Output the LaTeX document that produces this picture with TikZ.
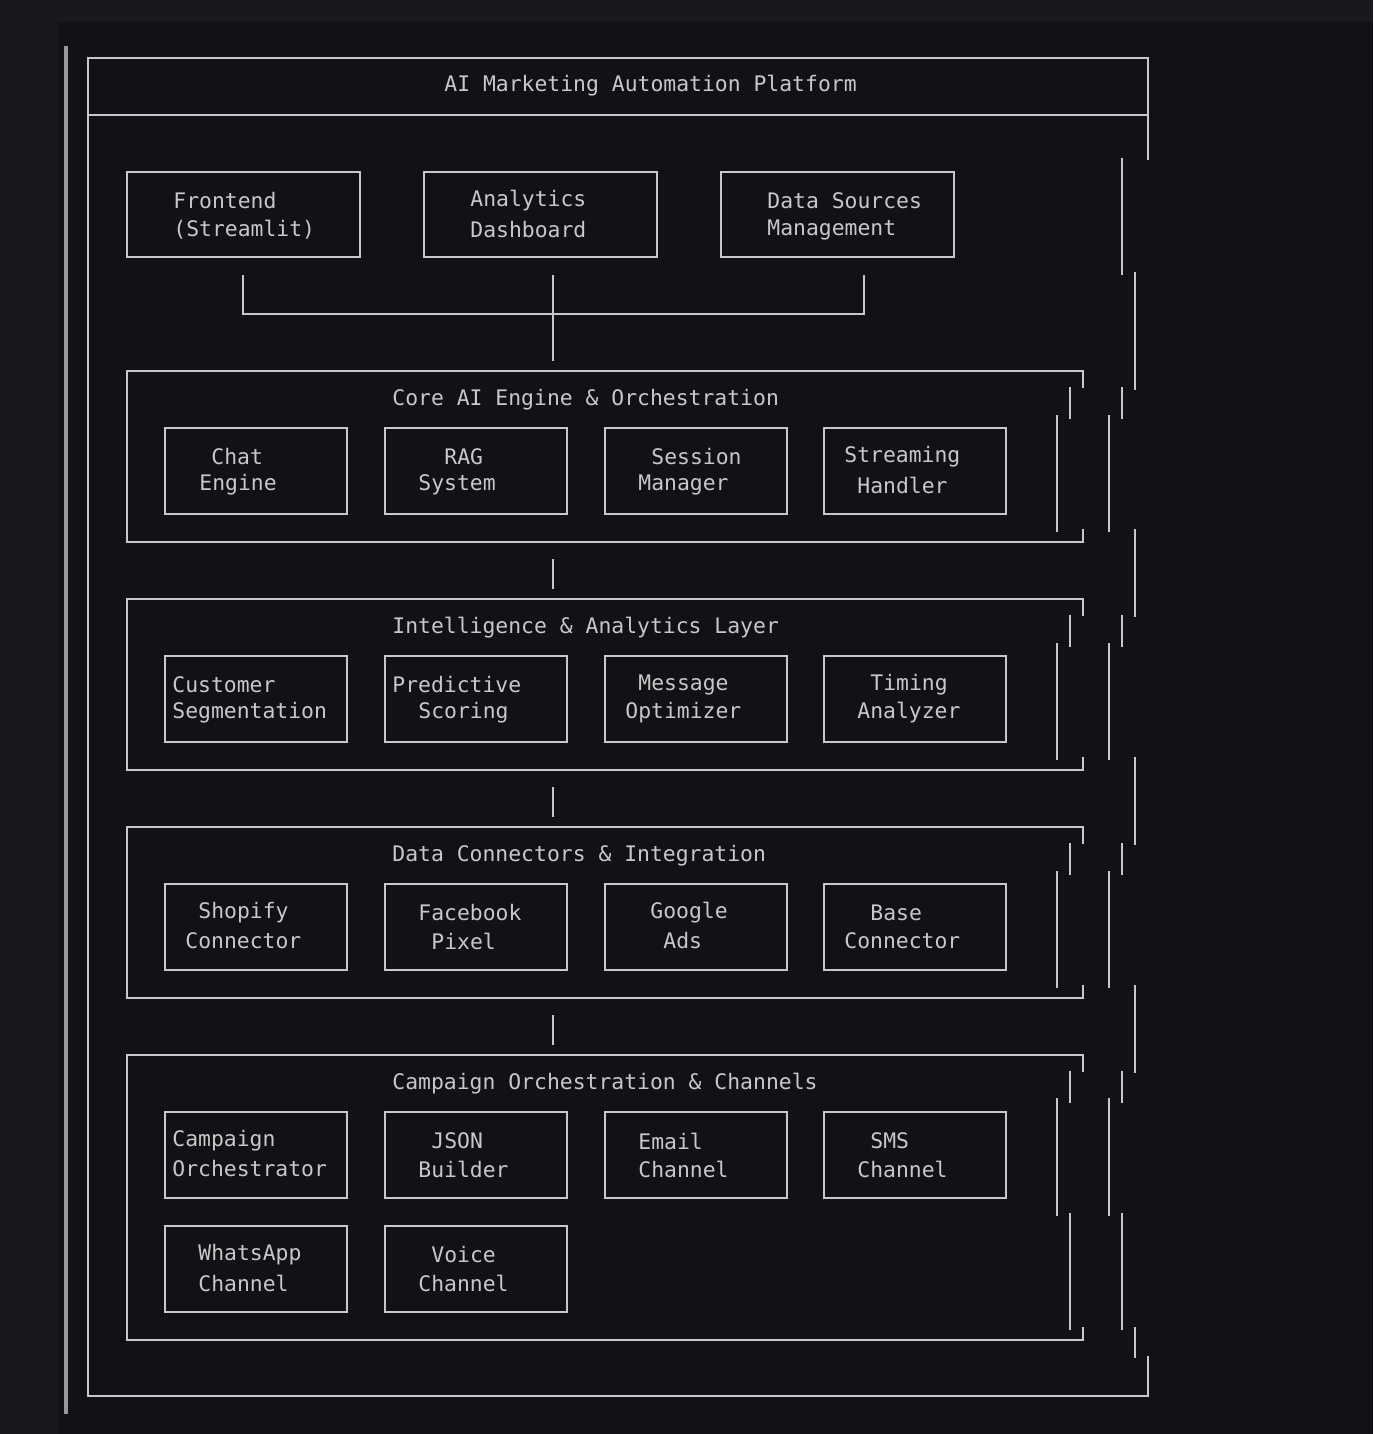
\documentclass[tikz,border=0pt]{standalone}
\usepackage{fontspec}
\setmonofont{DejaVu Sans Mono}
\usetikzlibrary{positioning}
\definecolor{pagebg}{HTML}{18181D}
\definecolor{termbg}{HTML}{111116}
\definecolor{ink}{HTML}{C8C8C8}
\tikzset{
  txt/.style={anchor=west,inner sep=0pt,text=ink,font=\ttfamily\fontsize{10.7}{12}\selectfont},
  frame/.style={draw=ink,line width=1pt},
  comp/.style={draw=ink,line width=1pt},
  wire/.style={draw=ink,line width=1pt},
}
% two-line component box: name, corners, text positions
\newcommand{\compbox}[8]{%
  \draw[comp] (#2,#3) rectangle (#4,#5);
  \node[txt] (#1a) at (#6,#5-#3) {};
  \node[txt] at (#6,{#3+29}) {#7};
  \node[txt] at (#8) {};
}
\newcommand{\twoline}[7]{%
  \draw[comp] (#2,#3) rectangle ({#2+182},{#3+86});
  \node[txt] (#1) at (#4,{#3+29}) {#5};
  \node[txt] (#1b) at (#6,{#3+57}) {#7};
}
\newcommand{\layerbox}[4]{%
  \draw[frame] (1083,{#1+17}) -- (1083,#1) -- (127,#1) -- (127,#2) -- (1083,#2) -- (1083,{#2-13});
  \node[txt] (#3) at (392,{#1+29}) {#4};
}
\begin{document}
\begin{tikzpicture}[x=0.5pt,y=-0.5pt]
  \fill[pagebg] (0,0) rectangle (1373,1434);
  \fill[termbg] (58,22) rectangle (1373,1434);
  \draw[line width=2pt,color=gray!80] (66,46) -- (66,1414);

  % outer frame
  \draw[frame] (1148,160) -- (1148,58) -- (88,58) -- (88,1396) -- (1148,1396) -- (1148,1356);
  \draw[frame] (88,115) -- (1148,115);
  \node[txt] (title) at (444,86) {AI Marketing Automation Platform};

  % top row
  \draw[comp] (127,172) rectangle (360,257);
  \node[txt] (fe) at (173,201) {Frontend};
  \node[txt] at (173,230) {(Streamlit)};
  \draw[comp] (424,172) rectangle (657,257);
  \node[txt] (ad) at (470,201) {Analytics};
  \node[txt] at (470,230) {Dashboard};
  \draw[comp] (721,172) rectangle (954,257);
  \node[txt] (ds) at (767,201) {Data Sources};
  \node[txt] at (767,230) {Management};

  \coordinate (j1) at (243,275);
  \coordinate (j2) at (553,275);
  \coordinate (j3) at (864,275);
  \coordinate (hub) at (553,314);
  \coordinate (down) at (553,361);
  \draw[wire] (j1) |- (hub) -| (j3);
  \draw[wire] (j2) -- (down);

  % layers
  \layerbox{371}{542}{core}{Core AI Engine \& Orchestration}
  \twoline{chat}{165}{428}{211}{Chat}{199}{Engine}
  \twoline{rag}{385}{428}{444}{RAG}{418}{System}
  \twoline{sess}{605}{428}{651}{Session}{638}{Manager}
  \twoline{strm}{824}{428}{844}{Streaming}{857}{Handler}

  \layerbox{599}{770}{intel}{Intelligence \& Analytics Layer}
  \twoline{seg}{165}{656}{172}{Customer}{172}{Segmentation}
  \twoline{pred}{385}{656}{392}{Predictive}{418}{Scoring}
  \twoline{msg}{605}{656}{638}{Message}{625}{Optimizer}
  \twoline{tim}{824}{656}{870}{Timing}{857}{Analyzer}

  \layerbox{827}{998}{data}{Data Connectors \& Integration}
  \twoline{shop}{165}{884}{198}{Shopify}{185}{Connector}
  \twoline{fb}{385}{884}{418}{Facebook}{431}{Pixel}
  \twoline{gads}{605}{884}{650}{Google}{663}{Ads}
  \twoline{base}{824}{884}{870}{Base}{844}{Connector}

  \layerbox{1055}{1340}{camp}{Campaign Orchestration \& Channels}
  \twoline{orch}{165}{1112}{172}{Campaign}{172}{Orchestrator}
  \twoline{json}{385}{1112}{431}{JSON}{418}{Builder}
  \twoline{email}{605}{1112}{638}{Email}{638}{Channel}
  \twoline{sms}{824}{1112}{870}{SMS}{857}{Channel}
  \twoline{wa}{165}{1226}{198}{WhatsApp}{198}{Channel}
  \twoline{voice}{385}{1226}{431}{Voice}{418}{Channel}

  % links between layers
  \foreach \a/\b in {559/589,787/817,1015/1045}
    \draw[wire] (553,\a) -- (553,\b);

  % broken right edges
  \foreach \y in {371,599,827,1055}{
    \draw[wire] (1070,\y+16) -- (1070,\y+48);
    \draw[wire] (1122,\y+16) -- (1122,\y+48);
  }
  \foreach \y in {371,599,827}{
    \draw[wire] (1057,\y+44) -- (1057,\y+161);
    \draw[wire] (1109,\y+44) -- (1109,\y+161);
    \draw[wire] (1135,\y+158) -- (1135,\y+246);
  }
  \draw[wire] (1057,1098) -- (1057,1216);
  \draw[wire] (1109,1098) -- (1109,1216);
  \draw[wire] (1070,1213) -- (1070,1330);
  \draw[wire] (1122,1213) -- (1122,1330);
  \draw[wire] (1122,158) -- (1122,275);
  \draw[wire] (1135,272) -- (1135,390);
  \draw[wire] (1135,1327) -- (1135,1358);
\end{tikzpicture}
\end{document}
